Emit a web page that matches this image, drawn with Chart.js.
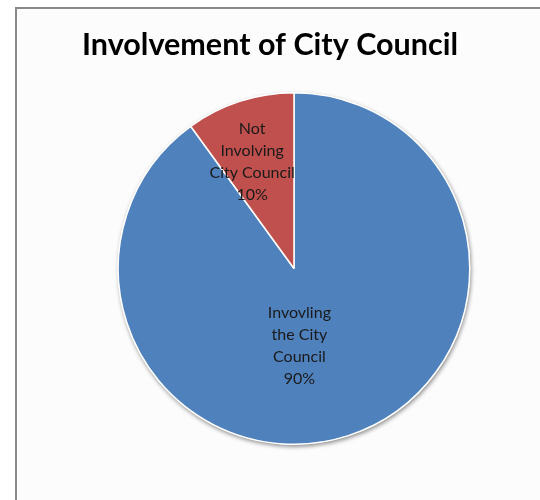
<!DOCTYPE html>
<html>
<head>
<meta charset="utf-8">
<script src="https://cdn.jsdelivr.net/npm/chart.js@4"></script>
<style>
	body { margin: 0; background: #ffffff; }
	#frame {
		position: absolute; left: 15px; top: 7px; width: 540px; height: 500px;
		border-left: 2px solid #8a8a8a; border-top: 2px solid #8a8a8a;
		background: #fcfcfc;
	}
	#wrap { position: absolute; left: 0; top: 0; width: 540px; height: 500px; }
</style>
</head>
<body>
<div id="frame"></div>
<div id="wrap"><canvas id="CouncilChart" width="540" height="500"></canvas></div>
<script>

const chartTitle = 'Involvement of City Council'
const categories = [['Invovling', 'the City', 'Council'], ['Not', 'Involving', 'City Council']]
const shares = [90, 10]
const sliceColors = ['#4f81bd', '#c0504d']

// where each slice label sits: shift from the mid angle (deg) and fraction of radius
const labelPlace = [{ shift: 14, frac: 0.44 }, { shift: -3.5, frac: 0.65 }]

const TitlePlugin = {
	id: 'centeredTitle',
	afterDraw: function (chart) {
		const ctx = chart.ctx
		ctx.save()
		ctx.font = 'bold 30.5px Lato'
		ctx.fillStyle = '#000000'
		ctx.textAlign = 'center'
		ctx.textBaseline = 'alphabetic'
		ctx.fillText(chartTitle, chart.width / 2, 55)
		ctx.restore()
	}
}

const ShadowPlugin = {
	id: 'pieShadow',
	beforeDatasetsDraw: function (chart) {
		const arc = chart.getDatasetMeta(0).data[0]
		if (!arc) return
		const ctx = chart.ctx
		ctx.save()
		ctx.shadowColor = 'rgba(0, 0, 0, 0.45)'
		ctx.shadowBlur = 4
		ctx.shadowOffsetX = 1
		ctx.shadowOffsetY = 2
		ctx.fillStyle = '#ffffff'
		ctx.beginPath()
		ctx.arc(arc.x, arc.y, arc.outerRadius + 0.5, 0, Math.PI * 2)
		ctx.fill()
		ctx.restore()
	}
}

const SliceLabels = {
	id: 'sliceLabels',
	afterDatasetsDraw: function (chart) {
		const ctx = chart.ctx
		const total = shares.reduce((a, b) => a + b, 0)
		ctx.save()
		ctx.font = '16px Lato'
		ctx.fillStyle = '#1a1a1a'
		ctx.textAlign = 'center'
		ctx.textBaseline = 'middle'
		chart.getDatasetMeta(0).data.forEach((arc, i) => {
			const mid = (arc.startAngle + arc.endAngle) / 2 + labelPlace[i].shift * Math.PI / 180
			const r = arc.outerRadius * labelPlace[i].frac
			const cx = arc.x + Math.cos(mid) * r
			const cy = arc.y + Math.sin(mid) * r
			const lines = categories[i].concat([Math.round(shares[i] / total * 100) + '%'])
			const step = 22
			lines.forEach((line, k) => {
				ctx.fillText(line, cx, cy + (k - (lines.length - 1) / 2) * step)
			})
		})
		ctx.restore()
	}
}

const data = {
	labels: categories,
	datasets: [{
		data: shares,
		backgroundColor: sliceColors,
		borderColor: '#ffffff',
		borderWidth: 1.5,
	}]
}

const config = {
	type: 'pie',
	data: data,
	options: {
		responsive: false,
		animation: false,
		layout: {
			padding: { top: 92, bottom: 55, left: 116, right: 68 }
		},
		plugins: {
			legend: { display: false },
			tooltip: { enabled: false }
		}
	},
	plugins: [ShadowPlugin, SliceLabels, TitlePlugin]
}

const CouncilChart = new Chart(
	document.getElementById('CouncilChart'),
	config
)

</script>
</body>
</html>
